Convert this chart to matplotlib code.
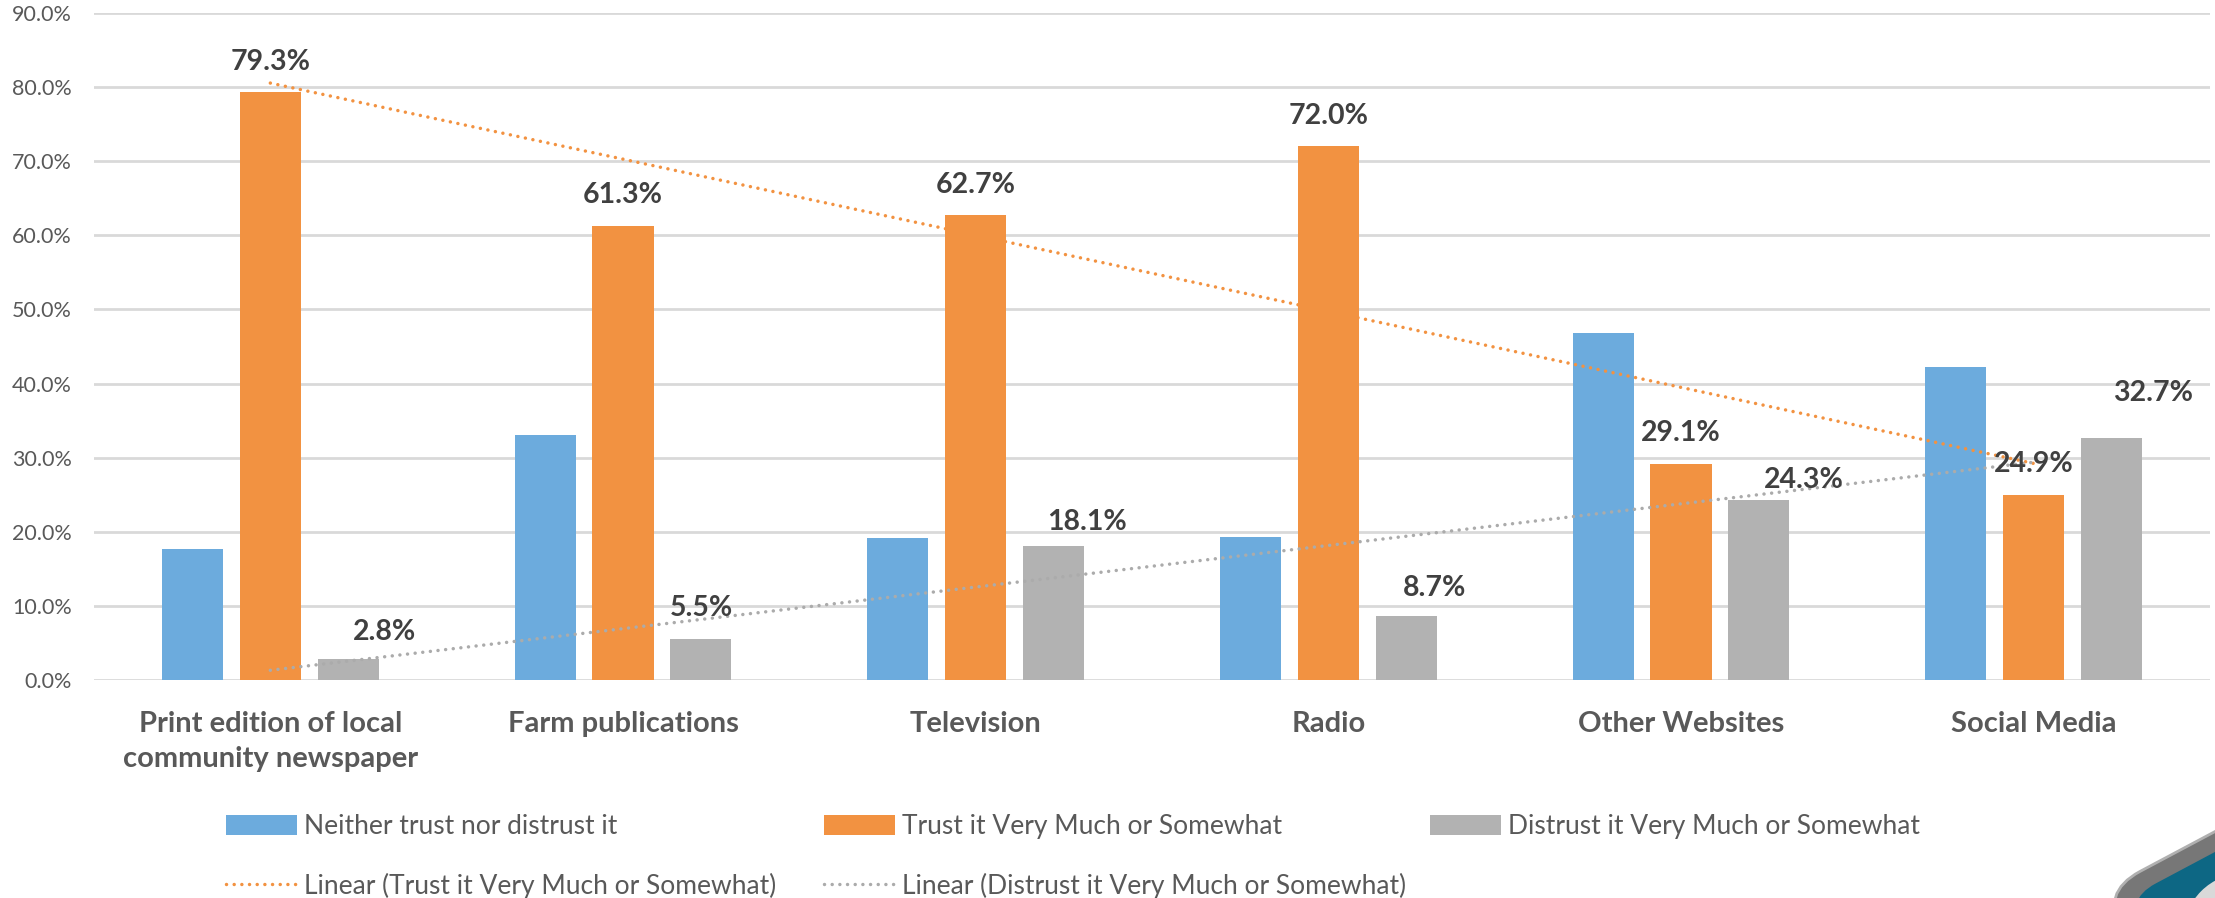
import numpy as np
import matplotlib
matplotlib.use("Agg")
import matplotlib.pyplot as plt
from matplotlib.patches import Patch, FancyBboxPatch, Wedge
from matplotlib.lines import Line2D
from matplotlib.transforms import Affine2D

# ---------------- data ----------------
categories = ["Print edition of local\ncommunity newspaper", "Farm publications",
              "Television", "Radio", "Other Websites", "Social Media"]
neither = [17.7, 33.1, 19.2, 19.3, 46.8, 42.3]
trust = [79.3, 61.3, 62.7, 72.0, 29.1, 24.9]
distrust = [2.8, 5.5, 18.1, 8.7, 24.3, 32.7]
series_names = ["Neither trust nor distrust it", "Trust it Very Much or Somewhat",
                "Distrust it Very Much or Somewhat"]
y_ticks = [0, 10, 20, 30, 40, 50, 60, 70, 80, 90]

# label placement tweaks (pixels: dx right, dy above bar top)
trust_lbl_dx = [0, 0, 0, 0, 0, 0]
trust_lbl_dy = [30, 31, 30, 30, 31, 31]
distrust_lbl_dx = [36, 0, 33, 28, 45, 41]
distrust_lbl_dy = [27, 31, 24, 28, 20, 45]

C_BLUE = "#6CABDD"
C_ORANGE = "#F29241"
C_GRAY = "#B2B2B2"
C_TEXT = "#595959"
C_LABEL = "#404040"
C_GRID = "#D9D9D9"

plt.rcParams["font.family"] = ["Lato", "DejaVu Sans"]

W, H = 2215, 898
fig = plt.figure(figsize=(W / 100, H / 100), dpi=100)
fig.patch.set_facecolor("white")

ax = fig.add_axes([94 / W, 1 - 680 / H, (2210 - 94) / W, (680 - 13) / H])
ax.set_facecolor("white")

x = np.arange(len(categories))
bw = 0.173
off = 0.221
ax.bar(x - off, neither, bw, color=C_BLUE, zorder=3, label=series_names[0])
ax.bar(x, trust, bw, color=C_ORANGE, zorder=3, label=series_names[1])
ax.bar(x + off, distrust, bw, color=C_GRAY, zorder=3, label=series_names[2])

# linear trendlines (computed from the series)
pt = np.polyfit(x, trust, 1)
pd_ = np.polyfit(x, distrust, 1)
dot_kw = dict(linewidth=2.5, dashes=(0.01, 2.2), dash_capstyle="round", zorder=4)
ax.plot(x, np.polyval(pt, x), color=C_ORANGE, **dot_kw)
ax.plot(x, np.polyval(pd_, x), color="#ABABAB", **dot_kw)

# data labels
px2pt = 72 / 100
for i in range(len(x)):
    ax.annotate(f"{trust[i]:.1f}%", (x[i], trust[i]),
                xytext=(trust_lbl_dx[i] * px2pt, trust_lbl_dy[i] * px2pt),
                textcoords="offset points", ha="center", va="center",
                fontsize=20.5, fontweight="bold", color=C_LABEL, zorder=5)
    ax.annotate(f"{distrust[i]:.1f}%", (x[i] + off, distrust[i]),
                xytext=(distrust_lbl_dx[i] * px2pt, distrust_lbl_dy[i] * px2pt),
                textcoords="offset points", ha="center", va="center",
                fontsize=20.5, fontweight="bold", color=C_LABEL, zorder=5)

ax.set_xlim(-0.5, len(categories) - 0.5)
ax.set_ylim(0, 90)
ax.set_yticks(y_ticks)
ax.set_yticklabels([f"{v:.1f}%" for v in y_ticks])
ax.set_xticks(x)
ax.set_xticklabels(categories, fontweight="bold", fontsize=21, color=C_TEXT,
                   linespacing=1.47)
ax.tick_params(axis="x", length=0, pad=22)
ax.tick_params(axis="y", length=0, pad=16, labelsize=15.5, labelcolor=C_TEXT)
ax.grid(axis="y", color=C_GRID, linewidth=2.0, zorder=0)
ax.set_axisbelow(True)
for s in ax.spines.values():
    s.set_visible(False)

# legend: three columns, equal widths
fs = 19
h_neither = Patch(facecolor=C_BLUE)
h_trust = Patch(facecolor=C_ORANGE)
h_distrust = Patch(facecolor=C_GRAY)
h_lt = Line2D([], [], color=C_ORANGE, **dot_kw)
h_ld = Line2D([], [], color="#ABABAB", **dot_kw)
cols = [
    ([h_neither, h_lt], [series_names[0], "Linear (Trust it Very Much or Somewhat)"], 226),
    ([h_trust, h_ld], [series_names[1], "Linear (Distrust it Very Much or Somewhat)"], 824),
    ([h_distrust], [series_names[2]], 1430),
]
for hs, ls, cx in cols:
    leg = fig.legend(hs, ls, loc="upper left", bbox_to_anchor=(cx / W, 1 - 814 / H),
                     frameon=False, fontsize=fs, handlelength=2.69, handleheight=0.76,
                     handletextpad=0.27, labelspacing=1.28, borderpad=0,
                     borderaxespad=0)
    for t in leg.get_texts():
        t.set_color(C_TEXT)

# partial logo in the lower-right corner
lax = fig.add_axes([0, 0, 1, 1], zorder=-1)
lax.set_xlim(0, W)
lax.set_ylim(H, 0)
lax.axis("off")
cxl, cyl = 2382, 890
rot = Affine2D().rotate_deg_around(cxl, cyl, -28) + lax.transData
outer = FancyBboxPatch((cxl - 250, cyl - 130), 500, 260,
                       boxstyle="round,pad=0,rounding_size=45",
                       facecolor="#777777", edgecolor="#B0B0B0", linewidth=2,
                       transform=rot)
inner = FancyBboxPatch((cxl - 232, cyl - 112), 464, 224,
                       boxstyle="round,pad=0,rounding_size=35",
                       facecolor="#0D6784", edgecolor="none", transform=rot)
lax.add_patch(outer)
lax.add_patch(inner)
lax.add_patch(Wedge((2245, 935), 62, 90, 270, width=16, facecolor="#D9D9D9",
                    edgecolor="none"))

fig.savefig("out.png", dpi=100, facecolor="white")
